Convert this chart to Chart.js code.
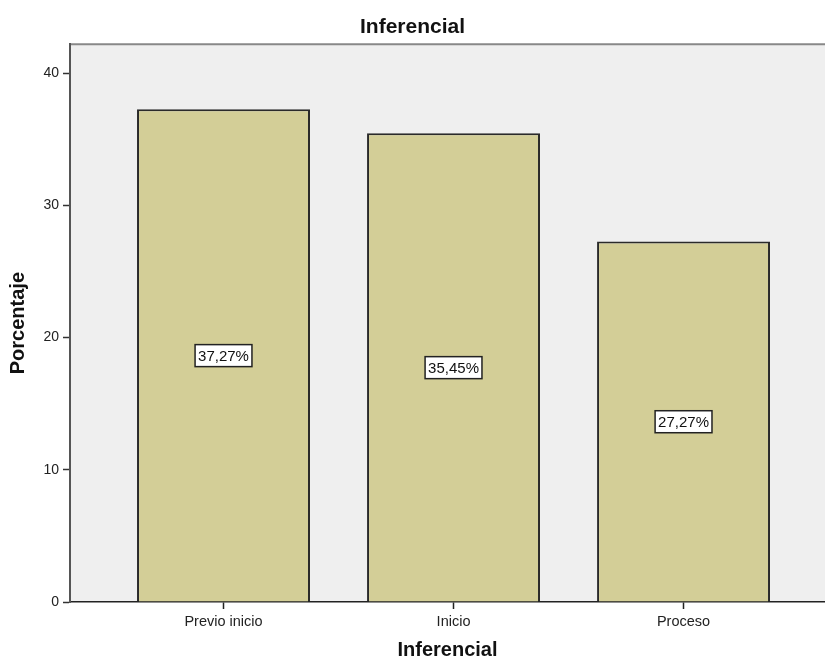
<!DOCTYPE html>
<html>
<head>
<meta charset="utf-8">
<script src="https://cdn.jsdelivr.net/npm/chart.js@4"></script>
<style>
  html, body { margin: 0; padding: 0; background: #fff; }
  #wrap { width: 825px; height: 662px; }
</style>
</head>
<body>
<div id="wrap"><canvas id="chart" width="825" height="662"></canvas></div>
<script>
const categories = ['Previo inicio', 'Inicio', 'Proceso'];
const porcentajes = [37.27, 35.45, 27.27];
const etiquetas = ['37,27%', '35,45%', '27,27%'];
const yTicks = [0, 10, 20, 30, 40];

const font = 'Liberation Sans, Arial, sans-serif';

// fondo gris del area y etiquetas blancas dentro de las barras
const spssPlugin = {
  id: 'spss',
  beforeDraw(chart) {
    const { ctx, chartArea: a } = chart;
    ctx.save();
    ctx.fillStyle = '#efefef';
    ctx.fillRect(a.left, a.top, a.right - a.left, a.bottom - a.top);
    ctx.strokeStyle = '#888';
    ctx.lineWidth = 2;
    ctx.beginPath();
    ctx.moveTo(a.left, a.top);
    ctx.lineTo(a.right, a.top);
    ctx.stroke();
    ctx.restore();
  },
  afterDatasetsDraw(chart) {
    const { ctx } = chart;
    const meta = chart.getDatasetMeta(0);
    const y = chart.scales.y;
    ctx.save();
    ctx.font = '15px ' + font;
    ctx.textAlign = 'center';
    ctx.textBaseline = 'middle';
    meta.data.forEach((bar, i) => {
      const cy = y.getPixelForValue(porcentajes[i] / 2);
      const w = ctx.measureText(etiquetas[i]).width + 6;
      const h = 22;
      ctx.fillStyle = '#fff';
      ctx.fillRect(bar.x - w / 2, cy - h / 2, w, h);
      ctx.strokeStyle = '#222';
      ctx.lineWidth = 1.5;
      ctx.strokeRect(bar.x - w / 2, cy - h / 2, w, h);
      ctx.fillStyle = '#111';
      ctx.fillText(etiquetas[i], bar.x, cy + 1);
    });
    ctx.restore();
  }
};

new Chart(document.getElementById('chart'), {
  type: 'bar',
  data: {
    datasets: [{
      data: porcentajes.map((v, i) => ({ x: i, y: v })),
      backgroundColor: '#d3ce97',
      borderColor: '#2a2a2a',
      borderWidth: 2,
      categoryPercentage: 1,
      barPercentage: 0.752
    }]
  },
  options: {
    responsive: false,
    animation: false,
    layout: { padding: 0 },
    plugins: {
      legend: { display: false },
      tooltip: { enabled: false },
      title: {
        display: true,
        text: 'Inferencial',
        color: '#111',
        font: { family: font, size: 21, weight: 'bold' },
        padding: { top: 15, bottom: 4 }
      }
    },
    scales: {
      x: {
        type: 'linear',
        offset: false,
        min: -0.6674,
        max: 2.615,
        afterBuildTicks: s => { s.ticks = categories.map((c, i) => ({ value: i })); },
        afterFit: s => { s.height = 60; },
        ticks: {
          callback: v => categories[v],
          color: '#222',
          font: { family: font, size: 14.5 },
          padding: 4,
          maxRotation: 0,
          autoSkip: false
        },
        grid: { offset: false, drawOnChartArea: false, tickLength: 7, color: '#222', tickWidth: 1.5 },
        border: { color: '#222', width: 1.5 },
        title: {
          display: true,
          text: 'Inferencial',
          color: '#111',
          font: { family: font, size: 20, weight: 'bold' },
          padding: { top: 0, bottom: 0 }
        }
      },
      y: {
        min: 0,
        max: 42.19,
        afterBuildTicks: s => { s.ticks = yTicks.map(v => ({ value: v })); },
        afterFit: s => { s.width = 70; },
        ticks: {
          color: '#222',
          font: { family: font, size: 14 },
          padding: 4
        },
        grid: { drawOnChartArea: false, tickLength: 7, color: '#333', tickWidth: 1.5 },
        border: { color: '#555', width: 2 },
        title: {
          display: true,
          text: 'Porcentaje',
          color: '#111',
          font: { family: font, size: 20, weight: 'bold' },
          padding: { top: 6, bottom: 0 }
        }
      }
    }
  },
  plugins: [spssPlugin]
});
</script>
</body>
</html>
